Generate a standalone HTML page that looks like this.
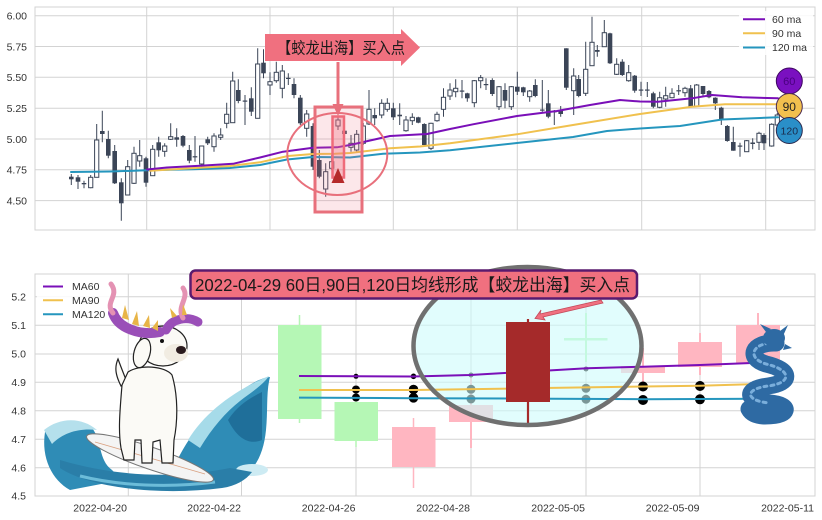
<!DOCTYPE html>
<html><head><meta charset="utf-8"><style>
html,body{margin:0;padding:0;background:#fff;}
svg{display:block;}
.g{stroke:#d3d3d3;stroke-width:1;fill:none}
.t{font-family:"Liberation Sans",sans-serif;font-size:10.5px;fill:#333}
.f{fill:#3b4557}
.h{fill:#fff;stroke:#3b4557;stroke-width:1}
.cj{font-family:"Liberation Sans","Noto Sans CJK SC",sans-serif;fill:#1a1a1a}
</style></head><body>
<svg width="822" height="520" viewBox="0 0 822 520" xmlns="http://www.w3.org/2000/svg">
<rect width="822" height="520" fill="#fff"/>
<!-- ============ TOP CHART ============ -->
<g class="g">
<path d="M35 15.7H815M35 46.5H815M35 77.3H815M35 108.2H815M35 139H815M35 169.8H815M35 200.6H815"/>
<path d="M146.7 7V230M270 7V230M393.3 7V230M517.3 7V230M641.7 7V230M765.7 7V230"/>
<rect x="35" y="7" width="780" height="223"/>
</g>
<g class="t" text-anchor="end">
<text x="27" y="19.5">6.00</text><text x="27" y="50.3">5.75</text><text x="27" y="81.1">5.50</text><text x="27" y="112">5.25</text><text x="27" y="142.8">5.00</text><text x="27" y="173.6">4.75</text><text x="27" y="204.4">4.50</text>
</g>
<!-- wicks -->
<path stroke="#3b4557" stroke-width="1" fill="none" d="M71.3 174V185M78 175V189M84 180.7V188.3M90.7 175V188.3M96.7 124V177.3M102.3 110.7V142.3M108.3 130.7V158.3M114.7 145V184M121.3 178.3V220.7M127.7 160V195M134 146.7V184M139.7 140V166.7M146 156.7V186.7M152.7 145V175.7M158.7 136.7V156.7M164.7 143.3V156.7M170.7 123.3V140M176.7 128.3V146.7M183 135V147.3M189.3 145V163.3M195 136V161.7M201.7 146V169.3M207.7 136.7V145M214 133.3V151.7M220.7 128.3V140M226.7 102.7V128.3M232.7 71.7V122.7M238.3 79.3V103.3M245 95V125M251.3 87.3V116M257.7 48.3V118.3M263.5 49.3V78.3M270 72.3V95M276.3 61.7V82.7M282.3 65V98.3M288.3 73.3V85M294 78.3V98.3M300.3 95V125M306.7 110V136.7M313 123.3V170M319.3 150V178.3M325.7 163.3V196.7M331.7 155V170M338 117V130M344.5 128V137M351 135V151.7M356.7 130V151.7M363.3 123V145M369 90V125M374.7 108.3V125M381.7 99.3V118.3M387.3 98.3V111.7M393.3 102.7V120M399.7 103.3V125M406 116V131.7M412.3 113.3V125M418.3 116.7V123.3M424.3 123.3V146.7M431 122.7V150M437 111.7V121.7M443.5 88.3V116.7M450 83.3V100M455.7 79.3V97.3M462 80V98.3M467.3 92.7V101.7M474.3 80V107.3M480.7 75V88.3M486 78.3V90M492.3 78.3V96M499 86V110M505 83.3V108.3M511.3 86V110M517.3 71.7V95M523.3 86.7V96M529.7 90V101.7M535.3 79.3V97.3M542.3 80V111.7M548.3 90V118.3M554.3 110V125M560.7 106V116.7M566.3 48.3V90M573.7 68.3V115M578.7 75V97.3M585.7 41.7V96M592 16.7V65.7M597.3 45V56.7M604.3 20V46.7M610 32.7V64M616.7 58.3V75M622.3 59.3V76M628.7 65V81.7M634.7 75V92.7M641 81.7V96M647.3 82V97M653.3 91.7V108.3M659.7 91.7V108.3M665.7 86.7V106.7M672 88.3V98.3M678.7 85V95M685 86.7V96.7M690.7 85V107.3M696.7 84V106.7M703 86V96M709 90V98.3M715.3 97.3V110M721.3 106.7V125M727.3 125V141.7M733.3 126.7V150.7M740 142.7V156.7M746.7 140V151.7M752.7 138.3V149.3M759 131.7V150M764 133.3V150M771.7 123.3V146.7M777.3 113V125"/>
<!-- filled bodies -->
<g class="f">
<rect x="69" y="176.7" width="4.6" height="2.6"/><rect x="75.7" y="177.3" width="4.6" height="4.4"/><rect x="100" y="131" width="4.6" height="3"/><rect x="106" y="139" width="4.6" height="16.7"/><rect x="112.4" y="151" width="4.6" height="32.3"/><rect x="119" y="182.3" width="4.6" height="21"/><rect x="143.7" y="158.3" width="4.6" height="24.4"/><rect x="156.4" y="142.3" width="4.6" height="8"/><rect x="174.4" y="137.3" width="4.6" height="2.4"/><rect x="180.7" y="136" width="4.6" height="9.7"/><rect x="187" y="150" width="4.6" height="10.7"/><rect x="205.4" y="139.3" width="4.6" height="4"/><rect x="236" y="90" width="4.6" height="11"/><rect x="249" y="98.3" width="4.6" height="13.4"/><rect x="261.2" y="62.7" width="4.6" height="10.6"/><rect x="291.7" y="84" width="4.6" height="11"/><rect x="298" y="97.7" width="4.6" height="25.6"/><rect x="310.7" y="126" width="4.6" height="40.7"/><rect x="317" y="160" width="4.6" height="16.7"/><rect x="342.2" y="130.7" width="4.6" height="3.3"/><rect x="372.4" y="115" width="4.6" height="3.3"/><rect x="391" y="108.3" width="4.6" height="9"/><rect x="397.4" y="114.7" width="4.6" height="1.6"/><rect x="416" y="117.3" width="4.6" height="5.4"/><rect x="422" y="124" width="4.6" height="21"/><rect x="465" y="93.3" width="4.6" height="5"/><rect x="490" y="80" width="4.6" height="14"/><rect x="502.7" y="90" width="4.6" height="10.7"/><rect x="515" y="86.7" width="4.6" height="5"/><rect x="521" y="87.3" width="4.6" height="5"/><rect x="533" y="85" width="4.6" height="11"/><rect x="546" y="103.3" width="4.6" height="13.4"/><rect x="558.4" y="110" width="4.6" height="4"/><rect x="564" y="48.3" width="4.6" height="39.4"/><rect x="576.4" y="79" width="4.6" height="17"/><rect x="607.7" y="33.3" width="4.6" height="30"/><rect x="620" y="61.7" width="4.6" height="13.3"/><rect x="632.4" y="75.7" width="4.6" height="15"/><rect x="651" y="93.3" width="4.6" height="13.4"/><rect x="688.4" y="88.3" width="4.6" height="18.4"/><rect x="700.7" y="86" width="4.6" height="8"/><rect x="706.7" y="91" width="4.6" height="6.3"/><rect x="713" y="97.7" width="4.6" height="5.6"/><rect x="719" y="107.7" width="4.6" height="11.6"/><rect x="725" y="126" width="4.6" height="15"/><rect x="731" y="142" width="4.6" height="8.7"/><rect x="750.4" y="142.5" width="4.6" height="1.5"/><rect x="761.7" y="135" width="4.6" height="8.3"/>
<rect x="81.7" y="183" width="4.6" height="1.3"/><rect x="192.7" y="156.2" width="4.6" height="1.2"/><rect x="242.7" y="100.5" width="4.6" height="1.2"/><rect x="286" y="77.8" width="4.6" height="1.2"/><rect x="459.7" y="90.5" width="4.6" height="1.2"/><rect x="483.7" y="84" width="4.6" height="1.2"/><rect x="540" y="109.5" width="4.6" height="1.2"/><rect x="552" y="111.2" width="4.6" height="1.2"/><rect x="595" y="50" width="4.6" height="1.8"/><rect x="638.7" y="89.5" width="4.6" height="1.2"/><rect x="645" y="89.5" width="4.6" height="1.2"/><rect x="676.4" y="90.2" width="4.6" height="1.2"/><rect x="737.7" y="145.5" width="4.6" height="1.2"/>
</g>
<!-- hollow bodies -->
<g class="h">
<rect x="88.6" y="177.3" width="4.2" height="10.4"/><rect x="94.6" y="140" width="4.2" height="37.3"/><rect x="125.6" y="166.7" width="4.2" height="28.3"/><rect x="131.9" y="153.3" width="4.2" height="30"/><rect x="137.6" y="155.7" width="4.2" height="5.3"/><rect x="150.6" y="149.3" width="4.2" height="26.4"/><rect x="162.6" y="146" width="4.2" height="5.3"/><rect x="168.6" y="136.7" width="4.2" height="2.6"/><rect x="199.6" y="146" width="4.2" height="18"/><rect x="211.9" y="136" width="4.2" height="10.7"/><rect x="218.6" y="135" width="4.2" height="2.3"/><rect x="224.6" y="114.3" width="4.2" height="9"/><rect x="230.6" y="81" width="4.2" height="41.7"/><rect x="255.6" y="64" width="4.2" height="54.3"/><rect x="267.9" y="81.7" width="4.2" height="3.3"/><rect x="274.2" y="72.3" width="4.2" height="8.4"/><rect x="280.2" y="71" width="4.2" height="17.3"/><rect x="304.6" y="114" width="4.2" height="14.3"/><rect x="323.6" y="171.7" width="4.2" height="17.3"/><rect x="329.6" y="161.7" width="4.2" height="6.6"/><rect x="335.9" y="120" width="4.2" height="6"/><rect x="348.9" y="143.3" width="4.2" height="4"/><rect x="354.6" y="134.3" width="4.2" height="15.7"/><rect x="361.2" y="126" width="4.2" height="17.3"/><rect x="366.9" y="109.3" width="4.2" height="14.7"/><rect x="379.6" y="103.3" width="4.2" height="11.7"/><rect x="385.2" y="103.3" width="4.2" height="6"/><rect x="403.9" y="120" width="4.2" height="10.7"/><rect x="410.2" y="117.3" width="4.2" height="3.4"/><rect x="428.9" y="123.3" width="4.2" height="25"/><rect x="434.9" y="114.3" width="4.2" height="6.4"/><rect x="441.4" y="97.3" width="4.2" height="12"/><rect x="447.9" y="90" width="4.2" height="6"/><rect x="453.6" y="88.3" width="4.2" height="3.4"/><rect x="472.2" y="80.7" width="4.2" height="22"/><rect x="478.6" y="77.7" width="4.2" height="3"/><rect x="496.9" y="86.7" width="4.2" height="20"/><rect x="509.2" y="86.7" width="4.2" height="20"/><rect x="527.6" y="91" width="4.2" height="5.7"/><rect x="571.6" y="76" width="4.2" height="14.7"/><rect x="583.6" y="69.3" width="4.2" height="24"/><rect x="589.9" y="42.3" width="4.2" height="23.4"/><rect x="602.2" y="32.7" width="4.2" height="14"/><rect x="614.6" y="64.3" width="4.2" height="10"/><rect x="626.6" y="72.7" width="4.2" height="8"/><rect x="657.6" y="97.7" width="4.2" height="9.6"/><rect x="663.6" y="95.7" width="4.2" height="3.3"/><rect x="669.9" y="93.3" width="4.2" height="4.4"/><rect x="682.9" y="88.3" width="4.2" height="4.4"/><rect x="694.6" y="85" width="4.2" height="21"/><rect x="744.6" y="140.7" width="4.2" height="11"/><rect x="756.9" y="133.3" width="4.2" height="9"/><rect x="769.6" y="124.3" width="4.2" height="21.7"/><rect x="775.2" y="115" width="4.2" height="10"/>
</g>
<!-- MA lines top -->
<g fill="none" stroke-width="2" stroke-linejoin="round" stroke-linecap="round">
<polyline stroke="#2596be" points="71,172 110,171.5 147,170.3 193,169.3 230,168 260,165 287,159.5 313,157 336,157.3 350,157.5 383,153.8 420,152.5 450,150.3 517,143 573,137 607,131 640,128.5 680,126 722,119.5 778,117.3"/>
<polyline stroke="#f0c14e" points="150,170.8 203,167.5 230,166 260,162.3 288,156 313,154 335,153.8 350,153 390,148.3 420,146.5 450,143.3 517,134.3 573,125 640,114 692,106.7 725,104.3 778,104.3"/>
<polyline stroke="#7a0fb8" points="147,169.5 167,167.5 200,165.7 233,163.8 260,157.5 283,151.7 313,147.7 337,147.3 350,145 390,136 427,134 450,129 473,124.3 517,116 557,111 590,105 620,100 640,101.5 658,101.7 692,98.3 712,95 742,97.3 778,98.3"/>
</g>
<!-- top annotation -->
<rect x="315" y="107" width="47" height="105" fill="rgba(240,112,128,0.17)" stroke="#e8707c" stroke-width="3"/>
<ellipse cx="337.3" cy="154" rx="50" ry="41" fill="none" stroke="#e8707c" stroke-width="2"/>
<rect x="332.5" y="116.5" width="11.5" height="61" fill="rgba(240,112,128,0.35)" stroke="#ef6b7a" stroke-width="2.5"/>
<polygon points="331.5,183 338,168 344.5,183" fill="#b52a2a"/>
<line x1="338" y1="62" x2="338" y2="106" stroke="#e8707c" stroke-width="3"/>
<polygon points="332.5,104 343.5,104 338,116" fill="#e8707c"/>
<polygon points="265,34 401,34 401,29 420,47.5 401,66 401,61 265,61" fill="#f0707f"/>
<text class="cj" x="277" y="53.5" font-size="16" textLength="128" lengthAdjust="spacingAndGlyphs">【蛟龙出海】买入点</text>
<!-- top legend -->
<rect x="739" y="11" width="74" height="44" fill="#fff" opacity="0.85"/>
<g stroke-width="2">
<line x1="743" y1="19.3" x2="765" y2="19.3" stroke="#7a0fb8"/>
<line x1="743" y1="33.3" x2="765" y2="33.3" stroke="#f0c14e"/>
<line x1="743" y1="47.5" x2="765" y2="47.5" stroke="#2596be"/>
</g>
<g class="t" font-size="10">
<text x="772" y="23">60 ma</text><text x="772" y="37">90 ma</text><text x="772" y="51">120 ma</text>
</g>
<!-- circles -->
<circle cx="789.3" cy="81" r="13" fill="#7a10c0" stroke="#3d0660" stroke-width="1"/>
<text x="789.3" y="85" text-anchor="middle" font-family="Liberation Sans,sans-serif" font-size="11" fill="#4a0080">60</text>
<circle cx="789.3" cy="106.5" r="13" fill="#f2c04e" stroke="#4a2a50" stroke-width="1"/>
<text x="789.3" y="111" text-anchor="middle" font-family="Liberation Sans,sans-serif" font-size="12" fill="#222">90</text>
<circle cx="789.3" cy="130.5" r="13" fill="#2a8fc8" stroke="#2a2a50" stroke-width="1"/>
<text x="789.3" y="134.5" text-anchor="middle" font-family="Liberation Sans,sans-serif" font-size="10.5" fill="#1a2a4a">120</text>

<!-- ============ BOTTOM CHART ============ -->
<g class="g">
<path d="M35 296.7H815M35 325.3H815M35 354H815M35 382.3H815M35 410.7H815M35 439.3H815M35 467.7H815"/>
<path d="M128.3 274V496M241.5 274V496M356 274V496M471 274V496M586 274V496M700 274V496"/>
<rect x="35" y="274" width="780" height="222"/>
</g>
<g class="t" text-anchor="end">
<text x="26" y="300.5">5.2</text><text x="26" y="329">5.1</text><text x="26" y="357.7">5.0</text><text x="26" y="386">4.9</text><text x="26" y="414.4">4.8</text><text x="26" y="443">4.7</text><text x="26" y="471.4">4.6</text><text x="26" y="499.7">4.5</text>
</g>
<g class="t" text-anchor="end" font-size="10">
<text x="127" y="511.5">2022-04-20</text><text x="241" y="511.5">2022-04-22</text><text x="355.5" y="511.5">2022-04-26</text><text x="470" y="511.5">2022-04-28</text><text x="585" y="511.5">2022-05-05</text><text x="699.5" y="511.5">2022-05-09</text><text x="814" y="511.5">2022-05-11</text>
</g>
<!-- bottom candles (except red) -->
<g stroke-width="1.5">
<line x1="299.5" y1="315" x2="299.5" y2="423" stroke="#b5f5b5"/>
<rect x="278" y="325" width="43.5" height="94" fill="#b5f7b5"/>
<line x1="356" y1="396" x2="356" y2="447" stroke="#b5f5b5"/>
<rect x="334.5" y="402" width="43.5" height="39" fill="#b5f7b5"/>
<line x1="413.5" y1="418" x2="413.5" y2="488" stroke="#ffb6c1"/>
<rect x="392" y="427" width="43.5" height="40" fill="#ffb6c1"/>
<line x1="471" y1="373" x2="471" y2="448" stroke="#ffb6c1" stroke-width="2"/>
<rect x="449" y="405" width="44" height="17" fill="#ffb6c1"/>
<line x1="586" y1="313" x2="586" y2="362" stroke="#b5f5b5" stroke-width="2"/>
<rect x="564" y="338" width="43.5" height="2.5" fill="#b5f5b5"/>
<line x1="643" y1="348" x2="643" y2="387" stroke="#ffb6c1" stroke-width="2"/>
<rect x="621" y="366" width="44" height="7" fill="#ffb6c1"/>
<line x1="700" y1="333" x2="700" y2="375" stroke="#ffb6c1" stroke-width="2"/>
<rect x="678" y="342" width="44" height="25" fill="#ffb6c1"/>
<line x1="758" y1="313" x2="758" y2="368" stroke="#ffb6c1" stroke-width="2"/>
<rect x="736" y="325" width="44" height="38" fill="#ffb6c1"/>
</g>
<!-- dots -->
<g fill="#000">
<circle cx="356" cy="376.3" r="2.5"/><circle cx="356" cy="389.5" r="4"/><circle cx="356" cy="397.5" r="4"/>
<circle cx="413.5" cy="376.3" r="2.8"/><circle cx="413.5" cy="389.5" r="4.8"/><circle cx="413.5" cy="397.8" r="4.8"/>
<circle cx="471" cy="375" r="2.5"/><circle cx="471" cy="389.3" r="4.5"/><circle cx="471" cy="399" r="4.5"/>
<circle cx="586" cy="369" r="2.5"/><circle cx="586" cy="388.3" r="4.5"/><circle cx="586" cy="399.2" r="4.5"/>
<circle cx="643" cy="386.5" r="5"/><circle cx="643" cy="400" r="5"/>
<circle cx="700" cy="386" r="5"/><circle cx="700" cy="399.3" r="5"/>
</g>
<!-- ellipse fill -->
<ellipse cx="527.5" cy="346" rx="114" ry="79" fill="rgba(205,252,252,0.6)"/>
<!-- MA lines bottom -->
<g fill="none" stroke-width="2">
<polyline stroke="#7a0fb8" points="299,376 356,376.3 413,376.5 470,375 527,371.7 587,368.3 643,366.7 700,365 758,362.7"/>
<polyline stroke="#f0c14e" points="299,390 413,390 527,388.3 643,386.5 700,385.8 758,384"/>
<polyline stroke="#2596be" points="299,397.6 413,398.2 527,398.6 643,399.2 758,398.8"/>
</g>
<!-- red candle -->
<line x1="528" y1="319" x2="528" y2="423" stroke="#a52a2a" stroke-width="2.2"/>
<rect x="506" y="322" width="44" height="80" fill="#a52a2a"/>
<ellipse cx="527.5" cy="346" rx="114" ry="79" fill="none" stroke="#707070" stroke-width="4.5"/>
<!-- bottom legend -->
<rect x="37" y="277" width="78" height="45" fill="#fff" opacity="0.85"/>
<g stroke-width="2">
<line x1="43" y1="286.5" x2="63" y2="286.5" stroke="#7a0fb8"/>
<line x1="43" y1="300.3" x2="63" y2="300.3" stroke="#f0c14e"/>
<line x1="43" y1="314.3" x2="63" y2="314.3" stroke="#2596be"/>
</g>
<g class="t" font-size="10">
<text x="72" y="290">MA60</text><text x="72" y="304">MA90</text><text x="72" y="318">MA120</text>
</g>
<!-- dog on wave -->
<g>
<path d="M172 472 C185 440,205 415,230 398 C245 388,258 378,270 377 C266 392,268 410,266 430 C264 450,258 465,245 476 L200 482 Z" fill="#2f8cb6"/>
<path d="M188 440 C205 412,235 390,269 376 C262 386,250 393,240 401 C226 412,212 428,200 448 Z" fill="#a6dbe9"/>
<path d="M228 420 C238 405,250 398,262 392 L262 440 C250 445,238 440,228 420 Z" fill="#1f6f9a"/>
<ellipse cx="252" cy="470" rx="16" ry="6" fill="#cdebf3"/>
<path d="M45 432 C55 420,75 420,92 428 C102 440,98 460,112 470 L122 480 L70 490 C52 480,41 458,45 432 Z" fill="#2f8cb6"/>
<path d="M44 430 C60 417,82 417,97 430 C80 428,64 432,52 444 Z" fill="#b5e0ec"/>
<path d="M60 468 C90 488,160 496,222 488 C236 486,246 480,252 472 L230 468 C180 478,120 478,60 460 Z" fill="#2a7ea8"/>
<path d="M80 476 C120 486,170 488,215 482" stroke="#6cbcd9" stroke-width="3" fill="none"/>
<ellipse cx="150" cy="458" rx="67" ry="11" transform="rotate(19 150 458)" fill="#f4f4f4" stroke="#777" stroke-width="1"/>
<line x1="95" y1="442" x2="205" y2="474" stroke="#d9a080" stroke-width="0.8"/>
<g stroke="#222" stroke-width="1.2" fill="#fbfaf6">
<path d="M121 386 C116 376,114 368,118 359 C121 367,124 375,127 382 Z"/>
<path d="M122 385 C120 410,118 430,121 448 L124 460 L134 460 L135 440 L141 440 L142 463 L152 463 L153 442 L160 440 L162 463 L173 463 L174 440 C178 420,178 395,172 375 C165 366,140 364,128 372 Z"/>
<ellipse cx="163" cy="346" rx="24" ry="20"/>
<ellipse cx="176" cy="353" rx="12" ry="9" fill="#f1ece2" stroke="none"/>
<ellipse cx="142" cy="353" rx="8" ry="15" transform="rotate(15 142 353)"/>
</g>
<ellipse cx="181" cy="350" rx="5" ry="4" fill="#2a1a1e"/>
<circle cx="162" cy="341" r="2" fill="#111"/>
<path d="M113 313 C118 328,140 336,160 332" stroke="#9a4fb8" stroke-width="10" fill="none" stroke-linecap="round"/>
<path d="M113 313 C104 302,120 296,111 284" stroke="#e492b3" stroke-width="5" fill="none" stroke-linecap="round"/>
<path d="M166 330 C172 318,188 316,198 322" stroke="#9a4fb8" stroke-width="9" fill="none" stroke-linecap="round"/>
<path d="M183 318 C176 306,190 298,183 288" stroke="#e492b3" stroke-width="5" fill="none" stroke-linecap="round"/>
<g fill="#e8b548">
<polygon points="122,318 125,305 129,320"/><polygon points="132,324 137,311 139,326"/><polygon points="143,326 149,315 150,328"/><polygon points="152,328 158,320 158,331"/>
<polygon points="172,318 170,308 177,316"/><polygon points="182,315 183,304 187,315"/>
</g>
</g>
<!-- dragon -->
<g fill="none" stroke-linecap="round">
<path d="M776 343 C752 342,746 358,766 364 C792 370,792 383,768 386 C744 389,745 401,770 403 C792 405,790 416,765 416 C756 416,751 413,749 409" stroke="#2e6aa3" stroke-width="17"/>
<path d="M776 343 C752 342,746 358,766 364 C792 370,792 383,768 386 C744 389,745 401,770 403" stroke="#7aaedb" stroke-width="3" stroke-dasharray="3 4"/>
</g>
<ellipse cx="774" cy="338" rx="11" ry="9" fill="#2e6aa3"/>
<path d="M766 332 L760 324 L771 329 Z M780 331 L788 325 L783 336 Z M785 344 L792 348 L783 350 Z" fill="#2e6aa3"/>
<!-- bottom label -->
<polygon points="601,300 540,314 541,310 535,318.5 545,320 543,317 603,303" fill="#f0707f" stroke="#c24a5a" stroke-width="0.8"/>
<rect x="190.5" y="270.5" width="446.5" height="28" rx="5" fill="#f0707f" stroke="#5a1a6e" stroke-width="2.5"/>
<text class="cj" x="195" y="291" font-size="17.5" textLength="435" lengthAdjust="spacingAndGlyphs">2022-04-29 60日,90日,120日均线形成【蛟龙出海】买入点</text>
</svg>
</body></html>
